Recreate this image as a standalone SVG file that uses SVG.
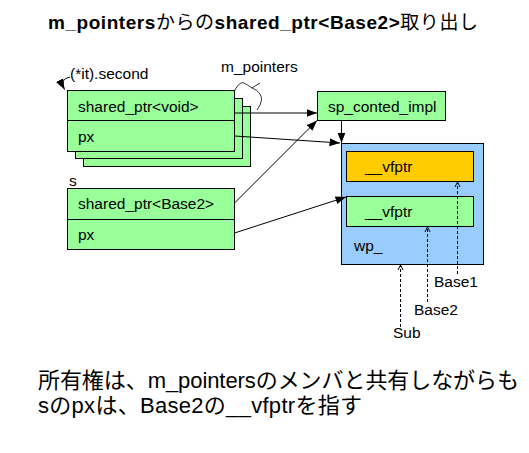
<svg xmlns="http://www.w3.org/2000/svg" width="529" height="453" viewBox="0 0 529 453">
<style>
text{font-family:"Liberation Sans","Noto Sans CJK JP",sans-serif;fill:#000}
.lbl{font-size:15.5px}
.g{fill:#99FF99;stroke:#000;stroke-width:1}
.o{fill:#FFCC00;stroke:#000;stroke-width:1}
.b{fill:#99CCFF;stroke:#000;stroke-width:1}
.ln{stroke:#000;stroke-width:1;fill:none}
.ar{stroke:#000;stroke-width:1;fill:none;marker-end:url(#ah)}
.da{stroke:#000;stroke-width:1;fill:none;stroke-dasharray:3,2;marker-end:url(#oh)}
</style>
<defs>
<marker id="ah" markerUnits="userSpaceOnUse" markerWidth="11" markerHeight="9" viewBox="0 0 11 9" refX="10.5" refY="4.5" orient="auto">
<path d="M0,0.5 L10.5,4.5 L0,8.5 Z" fill="#000"/>
</marker>
<marker id="oh" markerUnits="userSpaceOnUse" markerWidth="8" markerHeight="8" viewBox="0 0 8 8" refX="6.5" refY="4" orient="auto">
<path d="M1.5,1.5 L6.5,4 L1.5,6.5" fill="none" stroke="#000" stroke-width="1"/>
</marker>
</defs>

<text x="48" y="29" font-size="19" textLength="430" lengthAdjust="spacing"><tspan font-weight="bold">m_pointers</tspan>からの<tspan font-weight="bold">shared_ptr&lt;Base2&gt;</tspan>取り出し</text>

<g id="m_pointers">
<rect class="g" x="83.5" y="106.5" width="167" height="60"/>
<rect class="g" x="75.5" y="98.5" width="167" height="60"/>
<rect class="g" x="67.5" y="90.5" width="167" height="61"/>
<line class="ln" x1="67.5" y1="120.5" x2="234.5" y2="120.5"/>
<text class="lbl" x="78" y="112">shared_ptr&lt;void&gt;</text>
<text class="lbl" x="78" y="142">px</text>
<text class="lbl" x="70" y="79">(*it).second</text>
<path d="M70,77 Q59,79 64.5,89.5" class="ln" marker-end="url(#ah)"/>
<text class="lbl" x="221" y="72">m_pointers</text>
<path d="M234,92 Q238,83 243,82.5 Q248,85 252,88 L260,83 M252,88 Q262,92 261.5,100 Q261,105 257,110" fill="none" stroke="#333" stroke-width="1"/>
</g>

<g id="s">
<rect class="g" x="67.5" y="188.5" width="167" height="61"/>
<line class="ln" x1="67.5" y1="219.5" x2="234.5" y2="219.5"/>
<text class="lbl" x="78" y="209">shared_ptr&lt;Base2&gt;</text>
<text class="lbl" x="78" y="240">px</text>
<text class="lbl" x="69" y="186">s</text>
</g>

<g id="sp_conted_impl">
<rect class="g" x="317.5" y="91.5" width="128" height="29"/>
<text class="lbl" x="328" y="111.5">sp_conted_impl</text>
</g>

<g id="wp_">
<rect class="b" x="341.5" y="143.5" width="142" height="121"/>
<text class="lbl" x="354" y="251">wp_</text>
</g>

<g id="vfptr1">
<rect class="o" x="346.5" y="151.5" width="127" height="30"/>
<text class="lbl" x="365" y="171.5">__vfptr</text>
</g>

<g id="vfptr2">
<rect class="g" x="346.5" y="196.5" width="127" height="30"/>
<text class="lbl" x="365" y="216.5">__vfptr</text>
</g>

<g id="labels">
<text class="lbl" x="434" y="286.5">Base1</text>
<text class="lbl" x="414" y="315">Base2</text>
<text class="lbl" x="393" y="338">Sub</text>
</g>

<g id="connectors">
<line class="ar" x1="234.5" y1="113" x2="317" y2="113"/>
<line class="ar" x1="234.5" y1="136" x2="340" y2="143"/>
<line class="ar" x1="341.5" y1="120.5" x2="341.5" y2="143"/>
<line class="ar" x1="234.5" y1="203" x2="317" y2="120.5"/>
<line class="ar" x1="234.5" y1="233" x2="346" y2="197"/>
<line class="da" x1="457.5" y1="274" x2="457.5" y2="182"/>
<line class="da" x1="427.5" y1="302" x2="427.5" y2="227"/>
<line class="da" x1="400.5" y1="327" x2="400.5" y2="265"/>
</g>

<text x="38" y="388" font-size="22" textLength="481" lengthAdjust="spacing">所有権は、m_pointersのメンバと共有しながらも</text>
<text x="38" y="413" font-size="22" textLength="324" lengthAdjust="spacing">sのpxは、Base2の__vfptrを指す</text>
</svg>
